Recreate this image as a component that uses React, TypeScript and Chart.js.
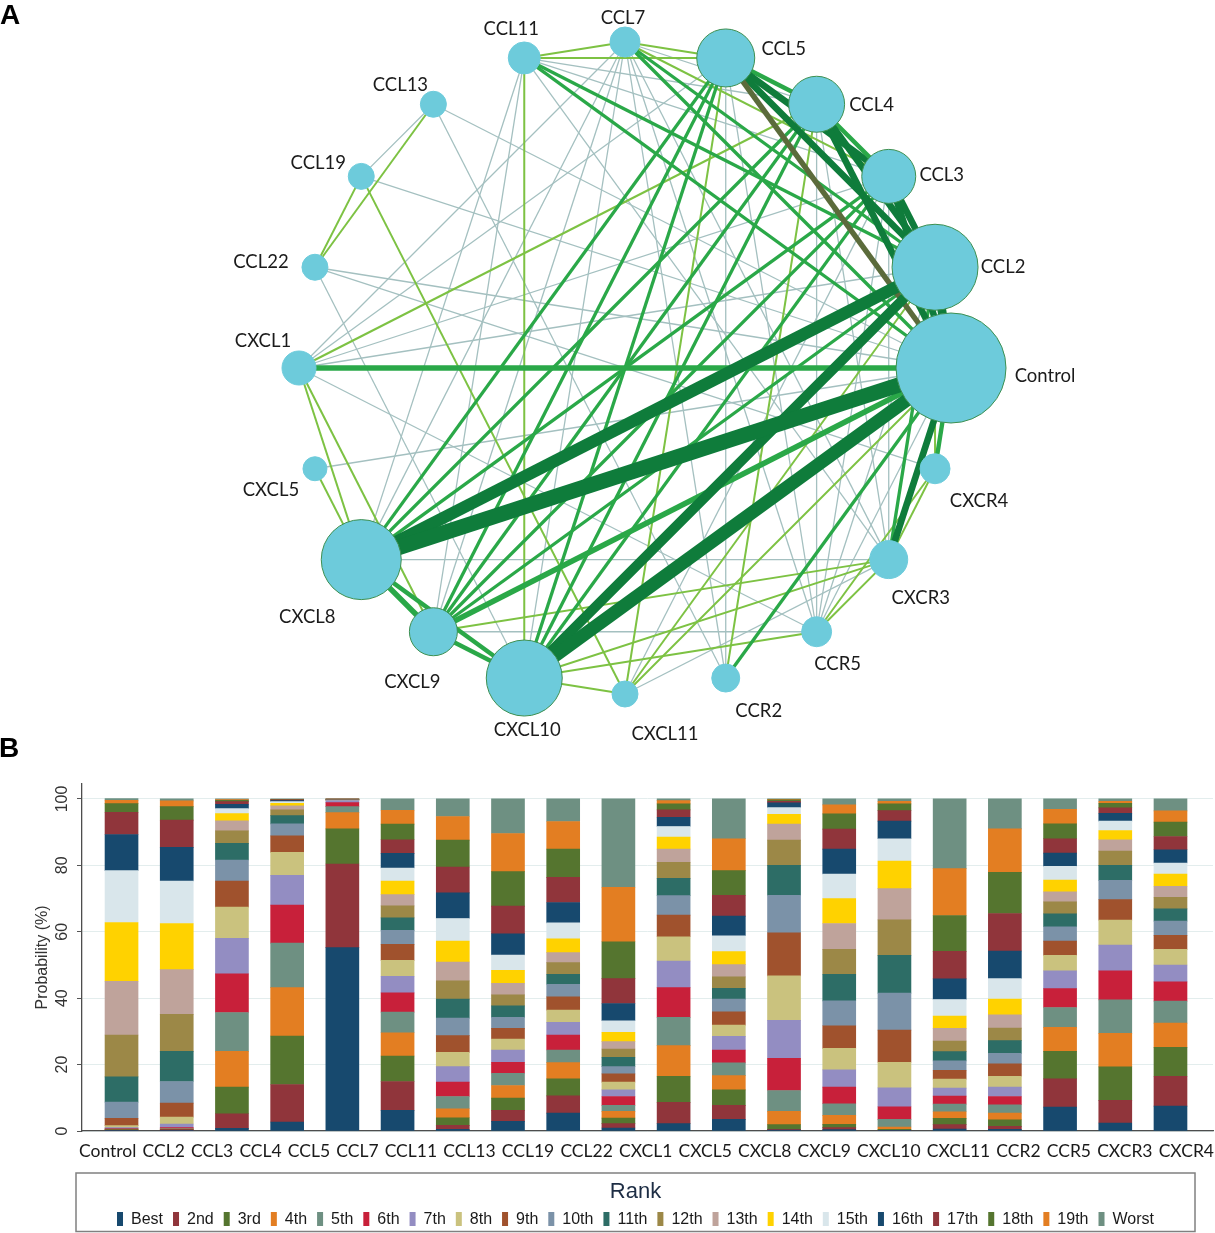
import React, { useEffect, useRef } from 'react';
import { Chart, registerables } from 'chart.js';

Chart.register(...registerables);

// ---------------- data ----------------
const treatments = ['Control', 'CCL2', 'CCL3', 'CCL4', 'CCL5', 'CCL7', 'CCL11', 'CCL13', 'CCL19', 'CCL22',
  'CXCL1', 'CXCL5', 'CXCL8', 'CXCL9', 'CXCL10', 'CXCL11', 'CCR2', 'CCR5', 'CXCR3', 'CXCR4'];

const rankLabels = ['Best', '2nd', '3rd', '4th', '5th', '6th', '7th', '8th', '9th', '10th',
  '11th', '12th', '13th', '14th', '15th', '16th', '17th', '18th', '19th', 'Worst'];

const rankColors = ['#17496e', '#90353b', '#55752f', '#e37e22', '#6e9082', '#c8203a', '#938dc2', '#cac27e',
  '#a0522d', '#7b92a8', '#2d6d66', '#9c8847', '#bfa39b', '#ffd200', '#d9e6eb',
  '#17496e', '#90353b', '#55752f', '#e37e22', '#6e9082'];

// probability (%) of each rank, Best -> Worst
const probControl = [0.2, 0.1, 0.1, 0.1, 0.1, 0.1, 0.3, 0.6, 2.2, 4.9, 7.6, 12.6, 16.2, 17.7, 15.6, 10.9, 6.7, 2.6, 1.0, 0.5];
const probCCL2 = [0.1, 0.3, 0.1, 0.1, 0.1, 0.3, 1.1, 2.1, 4.2, 6.5, 9.1, 11.1, 13.5, 13.9, 12.8, 10.1, 8.2, 4.1, 1.7, 0.6];
const probCCL3 = [0.8, 4.4, 8.0, 10.8, 11.7, 11.6, 10.7, 9.4, 7.9, 6.3, 5.0, 3.8, 3.0, 2.2, 1.5, 1.3, 0.8, 0.4, 0.2, 0.2];
const probCCL4 = [2.7, 11.3, 14.6, 14.6, 13.4, 11.4, 9.0, 6.9, 5.0, 3.6, 2.5, 1.7, 1.2, 0.8, 0.5, 0.3, 0.2, 0.1, 0.1, 0.1];
const probCCL5 = [55.2, 25.2, 10.6, 4.9, 1.8, 1.2, 0.6, 0.1, 0.1, 0.05, 0.05, 0.03, 0.03, 0.02, 0.02, 0.02, 0.02, 0.02, 0.03, 0.01];
const probCCL7 = [6.2, 8.7, 7.7, 7.0, 6.2, 5.8, 5.0, 4.8, 4.8, 4.2, 3.8, 3.6, 3.4, 4.1, 3.9, 4.4, 4.1, 4.7, 4.2, 3.4];
const probCCL11 = [0.5, 1.2, 2.3, 2.7, 3.7, 4.3, 4.7, 4.3, 5.0, 5.3, 5.7, 5.5, 5.7, 6.3, 6.8, 7.7, 7.8, 8.1, 7.1, 5.3];
const probCCL13 = [2.9, 3.3, 3.7, 3.8, 3.7, 3.3, 3.7, 3.3, 3.2, 3.3, 3.5, 3.3, 3.5, 3.9, 4.6, 6.4, 8.3, 10.4, 11.5, 10.4];
const probCCL19 = [5.4, 5.2, 5.1, 4.9, 3.8, 4.5, 3.8, 3.7, 4.0, 3.8, 3.0, 3.5, 3.0, 4.2, 4.8, 6.1, 7.6, 8.5, 8.3, 6.8];
const probCCL22 = [0.9, 1.3, 1.7, 2.0, 1.8, 2.7, 2.0, 2.3, 2.5, 2.2, 2.8, 2.5, 2.2, 2.8, 3.5, 5.2, 7.5, 11.1, 16.4, 26.6];
const probCXCL1 = [2.2, 6.4, 7.9, 9.2, 8.5, 9.0, 8.0, 7.3, 6.5, 5.9, 5.2, 4.8, 4.0, 3.6, 3.2, 2.8, 2.2, 1.8, 1.0, 0.5];
const probCXCL5 = [3.5, 4.2, 4.7, 4.3, 3.8, 3.9, 4.1, 3.4, 4.0, 3.8, 3.3, 3.4, 3.7, 3.9, 4.8, 5.9, 6.3, 7.4, 9.6, 12.0];
const probCXCL8 = [0.3, 0.2, 1.4, 4.0, 6.3, 9.7, 11.4, 13.4, 13.0, 11.3, 9.0, 7.6, 4.8, 3.0, 2.0, 1.4, 0.5, 0.4, 0.2, 0.1];
const probCXCL9 = [0.4, 0.6, 1.0, 2.7, 3.5, 5.0, 5.2, 6.5, 6.8, 7.5, 8.0, 7.5, 7.8, 7.5, 7.4, 7.5, 6.0, 4.6, 2.7, 1.8];
const probCXCL10 = [0.1, 0.1, 0.3, 0.7, 2.3, 3.8, 5.7, 7.7, 9.7, 11.1, 11.4, 10.7, 9.4, 8.3, 6.7, 5.3, 3.2, 2.0, 0.8, 0.7];
const probCXCL11 = [0.6, 1.3, 1.9, 2.0, 2.3, 2.4, 2.4, 2.7, 2.7, 2.8, 2.8, 3.2, 3.8, 3.7, 5.0, 6.2, 8.3, 10.8, 14.1, 21.0];
const probCCR2 = [0.5, 0.9, 2.0, 2.0, 2.5, 2.5, 2.8, 3.3, 3.7, 3.2, 3.8, 3.8, 4.0, 4.7, 6.2, 8.3, 11.3, 12.4, 13.1, 9.0];
const probCCR5 = [7.2, 8.5, 8.3, 7.2, 6.0, 5.7, 5.3, 4.7, 4.3, 4.3, 3.9, 3.6, 3.0, 3.6, 4.1, 4.0, 4.3, 4.5, 4.4, 3.1];
const probCXCR3 = [2.4, 6.8, 10.1, 10.1, 10.1, 8.7, 7.8, 7.5, 6.2, 5.8, 4.5, 4.3, 3.4, 2.8, 2.8, 2.4, 1.6, 1.4, 0.6, 0.7];
const probCXCR4 = [7.5, 9.0, 8.7, 7.3, 6.6, 5.8, 5.1, 4.7, 4.2, 4.3, 3.7, 3.5, 3.3, 3.7, 3.3, 4.0, 4.0, 4.3, 3.4, 3.6];

const rankProbabilities = [probControl, probCCL2, probCCL3, probCCL4, probCCL5, probCCL7, probCCL11, probCCL13,
  probCCL19, probCCL22, probCXCL1, probCXCL5, probCXCL8, probCXCL9, probCXCL10, probCXCL11, probCCR2, probCCR5,
  probCXCR3, probCXCR4];

const yTicks = [0, 20, 40, 60, 80, 100];

// network: node magnitude (same order as treatments) and comparisons [a, b, number of studies]
const nodeSize = [55, 43, 27, 28, 29, 15, 16, 13, 13, 13, 17, 12, 40, 24, 38, 13, 14, 15, 19, 15];

const networkEdges: [string, string, number][] = [
  ['Control', 'CXCL8', 14], ['Control', 'CXCL10', 12], ['CCL2', 'CXCL8', 11], ['CCL2', 'CXCL10', 9],
  ['Control', 'CCL2', 8], ['Control', 'CCL3', 6], ['Control', 'CCL4', 6], ['Control', 'CCL5', 5],
  ['Control', 'CCL7', 3], ['Control', 'CCL11', 3], ['Control', 'CCL13', 1], ['Control', 'CCL19', 1],
  ['Control', 'CCL22', 1], ['Control', 'CXCL1', 5], ['Control', 'CXCL5', 1], ['Control', 'CXCL9', 5],
  ['Control', 'CXCL11', 2], ['Control', 'CCR2', 3], ['Control', 'CCR5', 1], ['Control', 'CXCR3', 6],
  ['Control', 'CXCR4', 4],
  ['CCL2', 'CCL3', 6], ['CCL2', 'CCL4', 6], ['CCL2', 'CCL5', 6], ['CCL2', 'CCL7', 3], ['CCL2', 'CCL11', 3],
  ['CCL2', 'CXCL1', 1], ['CCL2', 'CXCL9', 3], ['CCL2', 'CXCL11', 2], ['CCL2', 'CCR5', 1],
  ['CCL2', 'CXCR3', 3], ['CCL2', 'CXCR4', 2],
  ['CCL3', 'CCL4', 4], ['CCL3', 'CCL5', 6], ['CCL3', 'CCL7', 2], ['CCL3', 'CCL11', 1], ['CCL3', 'CXCL1', 1],
  ['CCL3', 'CXCL8', 3], ['CCL3', 'CXCL9', 3], ['CCL3', 'CXCL10', 3], ['CCL3', 'CXCL11', 1],
  ['CCL3', 'CCR5', 1], ['CCL3', 'CXCR3', 1],
  ['CCL4', 'CCL5', 4], ['CCL4', 'CCL7', 1], ['CCL4', 'CCL11', 1], ['CCL4', 'CXCL1', 2], ['CCL4', 'CXCL8', 3],
  ['CCL4', 'CXCL9', 3], ['CCL4', 'CXCL10', 3], ['CCL4', 'CCR5', 1], ['CCL4', 'CCR2', 2], ['CCL4', 'CXCR3', 1],
  ['CCL5', 'CCL7', 2], ['CCL5', 'CCL11', 2], ['CCL5', 'CXCL1', 1], ['CCL5', 'CXCL8', 3], ['CCL5', 'CXCL9', 3],
  ['CCL5', 'CXCL10', 3], ['CCL5', 'CCR5', 1], ['CCL5', 'CXCL11', 2], ['CCL5', 'CCR2', 1],
  ['CCL7', 'CCL11', 2], ['CCL7', 'CXCL1', 1], ['CCL7', 'CXCL8', 1], ['CCL7', 'CXCL9', 1], ['CCL7', 'CXCL10', 1],
  ['CCL7', 'CCR2', 1], ['CCL7', 'CCR5', 1], ['CCL7', 'CXCR3', 1],
  ['CCL11', 'CXCL10', 2], ['CCL11', 'CXCL8', 1], ['CCL11', 'CXCL9', 1], ['CCL11', 'CXCR3', 1],
  ['CCL13', 'CCL19', 1], ['CCL13', 'CCL22', 2], ['CCL13', 'CCR2', 1],
  ['CCL19', 'CCL22', 2], ['CCL19', 'CXCL11', 2],
  ['CCL22', 'CXCL10', 1], ['CCL22', 'CXCR4', 1],
  ['CXCL1', 'CXCL8', 2], ['CXCL1', 'CXCL9', 2], ['CXCL1', 'CCR5', 1],
  ['CXCL5', 'CXCL8', 2],
  ['CXCL8', 'CXCL9', 5], ['CXCL8', 'CXCL10', 4], ['CXCL8', 'CXCR3', 1],
  ['CXCL9', 'CXCL10', 4], ['CXCL9', 'CXCR3', 2], ['CXCL9', 'CCR5', 1],
  ['CXCL10', 'CXCL11', 2], ['CXCL10', 'CXCR3', 2], ['CXCL10', 'CCR5', 2],
  ['CXCL11', 'CXCR3', 1],
  ['CCR5', 'CXCR3', 2], ['CCR5', 'CXCR4', 2],
  ['CXCR3', 'CXCR4', 2],
];

const inconsistentEdges: [string, string][] = [['CCL5', 'Control']];

// ---------------- layout / style helpers ----------------
const CIRCLE_CX = 625;
const CIRCLE_CY = 368;
const CIRCLE_R = 326;

function nodePos(i: number) {
  const a = (i * Math.PI) / 10;
  return { x: CIRCLE_CX + CIRCLE_R * Math.cos(a), y: CIRCLE_CY - CIRCLE_R * Math.sin(a) };
}

const labelOffset: Record<string, [number, number]> = {
  Control: [94, 8], CCL2: [68, 0], CCL3: [53, -1], CCL4: [55, 1], CCL5: [58, -9], CCL7: [-2, -24],
  CCL11: [-13, -29], CCL13: [-33, -19], CCL19: [-43, -13], CCL22: [-54, -5], CXCL1: [-36, -27],
  CXCL5: [-44, 21], CXCL8: [-54, 57], CXCL9: [-21, 50], CXCL10: [3, 52], CXCL11: [40, 40],
  CCR2: [33, 33], CCR5: [21, 32], CXCR3: [32, 38], CXCR4: [44, 32],
};

function edgeColor(w: number, inconsistent: boolean) {
  if (inconsistent) return '#5b6b3b';
  if (w <= 1) return '#a4c0c0';
  if (w === 2) return '#7dc243';
  if (w <= 5) return '#2aa848';
  return '#0f7c3b';
}
function edgeWidth(w: number) {
  if (w <= 1) return 1.3;
  if (w === 2) return 2;
  return w * 1.1;
}

const SANS = '"Liberation Sans", Arial, sans-serif';

// ---------------- Panel A ----------------
function NetworkChart() {
  const ref = useRef<HTMLCanvasElement>(null);
  useEffect(() => {
    const edgeDatasets = networkEdges.map(([a, b, w]) => {
      const pa = nodePos(treatments.indexOf(a));
      const pb = nodePos(treatments.indexOf(b));
      const inc = inconsistentEdges.some(([p, q]) => (p === a && q === b) || (p === b && q === a));
      return {
        type: 'line' as const,
        data: [pa, pb],
        borderColor: edgeColor(w, inc),
        borderWidth: edgeWidth(w),
        pointRadius: 0,
        showLine: true,
        fill: false,
        clip: false,
        order: w <= 1 ? 3 : w === 2 ? 2 : 1,
      };
    });
    const nodeDataset = {
      type: 'bubble' as const,
      data: treatments.map((_, i) => ({ ...nodePos(i), r: nodeSize[i] })),
      backgroundColor: '#6dcbdb',
      borderColor: nodeSize.map((s) => (s >= 20 ? '#3d8f50' : '#6dcbdb')),
      borderWidth: 1,
      clip: false,
      order: 0,
    };
    const labelPlugin = {
      id: 'nodeLabels',
      afterDatasetsDraw(chart: any) {
        const { ctx, scales } = chart;
        ctx.save();
        ctx.font = '18.5px Lato, "Open Sans", sans-serif';
        ctx.fillStyle = '#1b1b1b';
        ctx.textAlign = 'center';
        ctx.textBaseline = 'middle';
        treatments.forEach((name, i) => {
          const p = nodePos(i);
          const off = labelOffset[name];
          ctx.fillText(name, scales.x.getPixelForValue(p.x) + off[0], scales.y.getPixelForValue(p.y) + off[1]);
        });
        ctx.restore();
      },
    };
    const chart = new Chart(ref.current as HTMLCanvasElement, {
      type: 'scatter',
      data: { datasets: [nodeDataset, ...edgeDatasets] as any },
      options: {
        responsive: false,
        animation: false,
        events: [],
        layout: { padding: 0, autoPadding: false },
        plugins: { legend: { display: false }, tooltip: { enabled: false } },
        scales: {
          x: { type: 'linear', display: false, min: 0, max: 1215 },
          y: { type: 'linear', display: false, min: 0, max: 745, reverse: true },
        },
      },
      plugins: [labelPlugin],
    });
    return () => chart.destroy();
  }, []);
  return (
    <canvas ref={ref} width={1215} height={745}
      style={{ position: 'absolute', left: 0, top: 0, width: 1215, height: 745 }} />
  );
}

// ---------------- Panel B ----------------
function RankChart() {
  const ref = useRef<HTMLCanvasElement>(null);
  useEffect(() => {
    const datasets = rankLabels.map((label, r) => ({
      label,
      data: treatments.map((_, i) => ({ x: i, y: rankProbabilities[i][r] })),
      backgroundColor: rankColors[r],
      borderWidth: 0,
      barThickness: 33,
    }));
    const textPlugin = {
      id: 'rankText',
      afterDraw(chart: any) {
        const { ctx, chartArea, scales } = chart;
        ctx.save();
        // y tick labels (rotated)
        ctx.fillStyle = '#333';
        ctx.font = '16px ' + SANS;
        ctx.textAlign = 'center';
        ctx.textBaseline = 'middle';
        yTicks.forEach((v) => {
          const y = scales.y.getPixelForValue(v);
          ctx.save();
          ctx.translate(chartArea.left - 19, y);
          ctx.rotate(-Math.PI / 2);
          ctx.fillText(String(v), 0, 0);
          ctx.restore();
        });
        // y title
        ctx.save();
        ctx.translate(chartArea.left - 39, (chartArea.top + chartArea.bottom) / 2);
        ctx.rotate(-Math.PI / 2);
        ctx.fillText('Probability (%)', 0, 0);
        ctx.restore();
        // x labels, laid out as a justified row
        ctx.font = '17.5px Lato, "Open Sans", sans-serif';
        ctx.fillStyle = '#1a1a1a';
        ctx.textAlign = 'left';
        const widths = treatments.map((t) => ctx.measureText(t).width);
        const sumW = widths.reduce((a: number, b: number) => a + b, 0);
        const left = chartArea.left - 3;
        const right = chartArea.right + 1;
        const gap = (right - left - sumW) / (treatments.length - 1);
        let x = left;
        treatments.forEach((t, i) => {
          ctx.fillText(t, x, chartArea.bottom + 20);
          x += widths[i] + gap;
        });
        // legend box
        const boxL = chartArea.left - 6;
        const boxR = chartArea.right - 18;
        const boxT = chartArea.bottom + 42;
        const boxB = chart.height - 1.5;
        ctx.strokeStyle = '#808080';
        ctx.lineWidth = 1.5;
        ctx.strokeRect(boxL, boxT, boxR - boxL, boxB - boxT);
        const cxm = (boxL + boxR) / 2;
        ctx.font = '22px ' + SANS;
        ctx.fillStyle = '#1d2d44';
        ctx.textAlign = 'center';
        ctx.fillText('Rank', cxm, boxT + 19);
        ctx.font = '16px ' + SANS;
        const mw = 6, mh = 14, g1 = 8, g2 = 10;
        const ds = chart.data.datasets;
        const tw = ds.map((d: any) => ctx.measureText(d.label).width);
        const total = tw.reduce((a: number, b: number) => a + b, 0) + ds.length * (mw + g1) + (ds.length - 1) * g2;
        let lx = cxm - total / 2;
        const yRow = boxT + 46;
        ctx.textAlign = 'left';
        ds.forEach((d: any, r: number) => {
          ctx.fillStyle = d.backgroundColor;
          ctx.fillRect(lx, yRow - mh / 2, mw, mh);
          lx += mw + g1;
          ctx.fillStyle = '#1a1a1a';
          ctx.fillText(d.label, lx, yRow + 1);
          lx += tw[r] + g2;
        });
        ctx.restore();
      },
    };
    const chart = new Chart(ref.current as HTMLCanvasElement, {
      type: 'bar',
      data: { datasets: datasets as any },
      options: {
        responsive: false,
        animation: false,
        events: [],
        layout: { padding: { top: 39, right: 2, bottom: 61, left: 0 }, autoPadding: false },
        plugins: { legend: { display: false }, tooltip: { enabled: false } },
        scales: {
          x: {
            type: 'linear', min: -0.716, max: 19.77, stacked: true, offset: false,
            grid: { display: false },
            border: { display: true, color: '#4d4d4d', width: 1.3 },
            ticks: { display: false },
            afterFit: (s: any) => { s.height = 41; },
          },
          y: {
            type: 'linear', min: 0, max: 104.5, stacked: true,
            grid: { color: '#e3eded', lineWidth: 1, drawTicks: true, tickLength: 5, tickColor: '#555' },
            border: { color: '#4d4d4d', width: 1.3 },
            ticks: { display: false },
            afterBuildTicks: (s: any) => { s.ticks = yTicks.map((v) => ({ value: v })); },
            afterFit: (s: any) => { s.width = 82; },
          },
        },
      },
      plugins: [textPlugin],
    });
    return () => chart.destroy();
  }, []);
  return (
    <canvas ref={ref} width={1215} height={488}
      style={{ position: 'absolute', left: 0, top: 745, width: 1215, height: 488 }} />
  );
}

export default function App() {
  return (
    <div style={{ position: 'absolute', left: 0, top: 0, width: 1215, height: 1233, background: '#fff', overflow: 'hidden' }}>
      <NetworkChart />
      <RankChart />
      <div style={{ position: 'absolute', left: 0, top: 1, font: 'bold 28px ' + SANS, lineHeight: '28px', color: '#000' }}>A</div>
      <div style={{ position: 'absolute', left: -1, top: 734, font: 'bold 28px ' + SANS, lineHeight: '28px', color: '#000' }}>B</div>
    </div>
  );
}
